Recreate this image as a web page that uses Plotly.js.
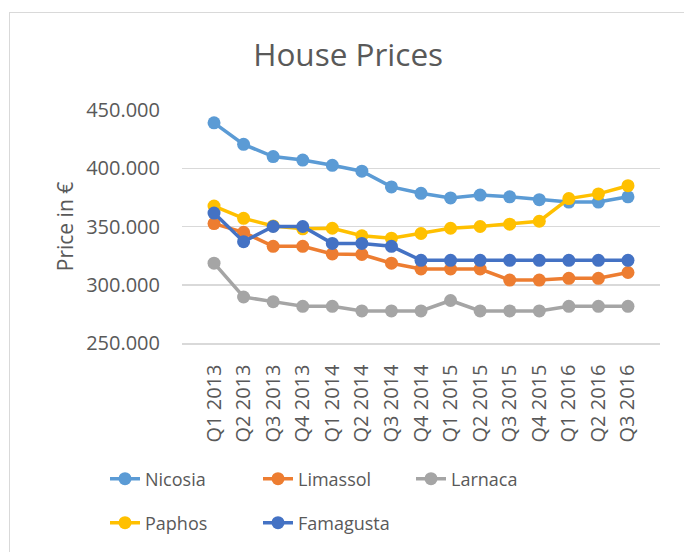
<!DOCTYPE html>
<html>
<head>
<meta charset="utf-8">
<script src="https://cdn.plot.ly/plotly-3.0.1.min.js"></script>
<style>
html,body{margin:0;padding:0;background:#fff;}
#frame{position:absolute;left:9px;top:12px;width:700px;height:560px;border:1.5px solid #d9d9d9;box-sizing:border-box;}
#chart{position:absolute;left:0;top:0;width:684px;height:552px;}
</style>
</head>
<body>
<div id="frame"></div>
<div id="chart"></div>
<script>
var quarters = ["Q1 2013","Q2 2013","Q3 2013","Q4 2013","Q1 2014","Q2 2014","Q3 2014","Q4 2014","Q1 2015","Q2 2015","Q3 2015","Q4 2015","Q1 2016","Q2 2016","Q3 2016"];
var nicosia   = [439000,420500,410000,407000,402500,397500,384000,378500,374500,377000,375500,373000,371000,371000,375500];
var limassol  = [352500,345000,333000,333000,326500,326000,318500,313500,313500,313500,304000,304000,305500,305500,310500];
var larnaca   = [318500,289500,285500,281500,281500,277500,277500,277500,286500,277500,277500,277500,281500,281500,281500];
var paphos    = [367500,357000,350500,348000,348500,342000,340000,344000,348500,350000,352000,354500,374000,378000,385000];
var famagusta = [361500,337000,350000,350000,335500,335500,333000,321000,321000,321000,321000,321000,321000,321000,321000];
var seriesNames = ["Nicosia","Limassol","Larnaca","Paphos","Famagusta"];
var seriesColors = ["#5B9BD5","#ED7D31","#A5A5A5","#FFC000","#4472C4"];
var seriesData = [nicosia, limassol, larnaca, paphos, famagusta];
var legendIds = ["legend","legend","legend","legend2","legend2"];

var font = "'Open Sans', 'Liberation Sans', sans-serif";
var txt = "#595959";

var traces = seriesData.map(function(d,i){
  return {
    x: quarters, y: d, name: seriesNames[i], type: "scatter", mode: "lines+markers",
    line: {color: seriesColors[i], width: 3.5},
    marker: {color: seriesColors[i], size: 13},
    legend: legendIds[i]
  };
});

var legendCommon = {
  orientation: "h", xref: "container", yref: "container",
  xanchor: "left", yanchor: "middle",
  font: {family: font, size: 18, color: txt},
  entrywidth: 108, entrywidthmode: "pixels",
  bgcolor: "rgba(0,0,0,0)", itemclick: false
};

var layout = {
  width: 684, height: 552,
  paper_bgcolor: "rgba(0,0,0,0)", plot_bgcolor: "rgba(0,0,0,0)",
  margin: {l: 182, r: 24, t: 110, b: 209},
  separators: ",.",
  font: {family: font, color: txt},
  title: {text: "House Prices", font: {family: font, size: 31.5, color: txt},
          x: 0.509, xref: "container", xanchor: "center",
          y: 1 - 55/552, yref: "container", yanchor: "middle"},
  xaxis: {
    type: "category", tickangle: -90, showgrid: false,
    showline: true, linecolor: "#d9d9d9", linewidth: 1.5,
    ticks: "", ticklabelstandoff: 12,
    tickfont: {family: font, size: 20, color: txt},
    fixedrange: true
  },
  yaxis: {
    range: [250000, 450000], dtick: 50000, tickformat: ",d",
    showgrid: true, gridcolor: "#d9d9d9", gridwidth: 1.5,
    zeroline: false, showline: false, ticks: "", ticklabelstandoff: 21,
    tickfont: {family: font, size: 20, color: txt},
    title: {text: "Price in €", font: {family: font, size: 21, color: txt}, standoff: 6},
    fixedrange: true
  },
  legend: Object.assign({}, legendCommon, {x: 105/684, y: 1 - 479/552}),
  legend2: Object.assign({}, legendCommon, {x: 105/684, y: 1 - 523/552}),
  showlegend: true
};

Plotly.newPlot("chart", traces, layout, {displayModeBar: false, staticPlot: true});
</script>
</body>
</html>
